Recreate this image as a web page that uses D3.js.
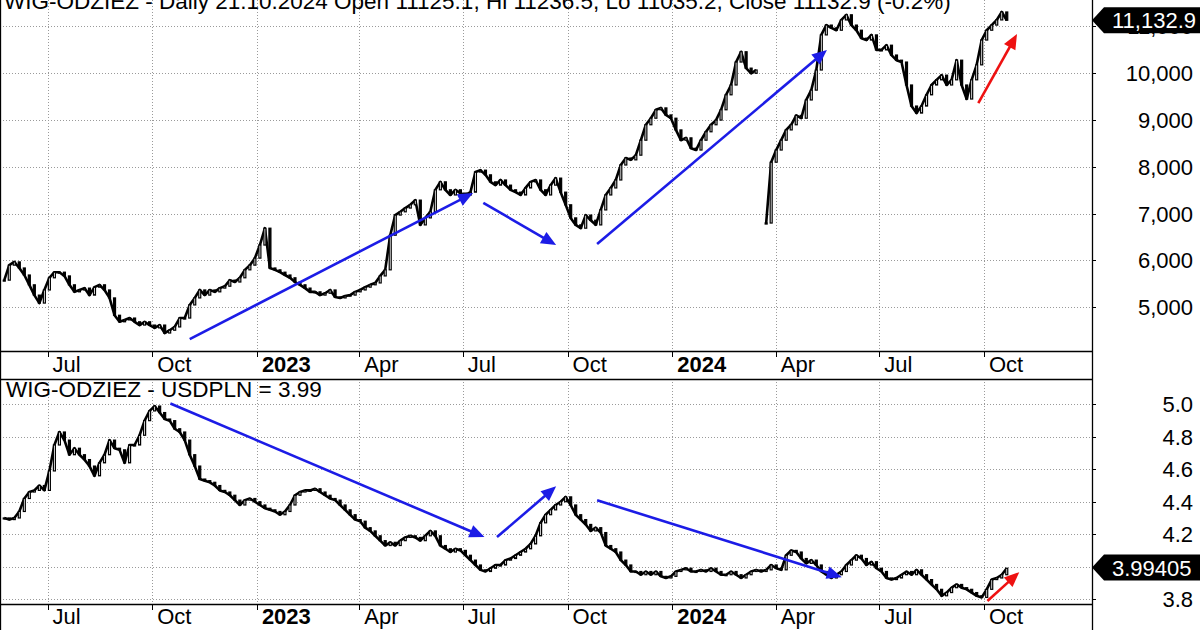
<!DOCTYPE html>
<html><head><meta charset="utf-8">
<script src="https://cdn.jsdelivr.net/npm/d3@7"></script>
<style>body{margin:0;background:#fff} svg{display:block;font-family:"Liberation Sans",Arial,sans-serif}</style>
</head><body><svg id="c" width="1200" height="630"></svg>
<script>
// ---------------- data ----------------
const startDate = "2022-05-24";
const endDate = "2024-10-21";
const wigTitle = "WIG-ODZIEZ - Daily 21.10.2024 Open 11125.1, Hi 11236.5, Lo 11035.2, Close 11132.9 (-0.2%)";
const usdTitle = "WIG-ODZIEZ - USDPLN = 3.99";
// null = gap in the quotes
const wigValues = [5580,5900,5970,5840,5690,5480,5260,5090,5370,5630,5750,5750,5670,5480,5330,5370,5410,5260,5430,5480,
5370,5200,4830,4690,4730,4770,4690,4620,4690,4620,4560,4620,4450,4510,4580,4770,4770,5050,5200,5370,
5260,5370,5330,5410,5450,5580,5540,5630,5800,5900,6050,6330,6690,5840,5800,5750,5690,5630,5540,5480,
5410,5330,5330,5260,5300,5370,5220,5200,5240,5260,5330,5370,5430,5480,5520,5670,5800,6540,6970,7040,
7120,7190,7290,6760,6910,7040,7510,7680,7510,7400,7510,7440,7400,7460,7890,7930,7830,7680,7610,7720,
7610,7510,7460,7400,7550,7680,7720,7510,7400,7610,7760,7460,7190,6910,6760,6690,6970,6860,6760,7080,
7400,7550,7720,8040,8190,8150,8250,8570,8900,9040,9220,9260,9110,9040,8790,8570,8620,8400,8360,8570,
8750,8900,9000,9220,9540,9750,10240,10460,10110,10000,10070,null,6800,8100,8360,8570,8790,8900,9100,9040,
9430,9640,10070,10820,11030,10970,10920,11140,11250,11030,10920,10750,10710,10820,10500,10500,10600,10390,10280,10240,
9750,9300,9150,9300,9540,9750,9860,9960,9750,9860,10280,9750,9450,9860,10180,10710,10920,11030,11140,11310,11133];
const usdValues = [4.30,4.29,4.30,4.34,4.42,4.46,4.47,4.50,4.47,4.59,4.75,4.83,4.78,4.69,4.73,4.69,4.66,4.62,4.56,4.64,
4.69,4.78,4.73,4.72,4.64,4.75,4.75,4.81,4.90,4.96,4.99,4.95,4.91,4.90,4.85,4.83,4.78,4.69,4.62,4.54,
4.53,4.52,4.50,4.47,4.46,4.44,4.41,4.38,4.41,4.42,4.40,4.38,4.36,4.35,4.34,4.32,4.34,4.38,4.44,4.46,
4.47,4.47,4.48,4.46,4.44,4.42,4.41,4.38,4.35,4.32,4.29,4.28,4.24,4.22,4.19,4.16,4.13,4.15,4.13,4.16,
4.18,4.19,4.18,4.16,4.19,4.22,4.19,4.13,4.11,4.09,4.11,4.10,4.07,4.04,4.01,3.98,3.97,3.99,4.01,4.01,
4.04,4.05,4.07,4.09,4.11,4.14,4.19,4.27,4.32,4.35,4.38,4.40,4.43,4.38,4.32,4.29,4.26,4.22,4.24,4.21,
4.13,4.11,4.09,4.04,4.01,3.97,3.97,3.95,3.97,3.95,3.97,3.94,3.93,3.94,3.97,3.98,3.99,3.97,3.97,3.98,
3.97,3.99,3.97,3.95,3.95,3.97,3.95,3.93,3.95,3.97,3.98,3.97,3.98,4.01,3.99,3.98,4.07,4.10,4.09,4.05,
4.02,4.04,4.01,3.97,3.95,3.93,3.95,3.97,4.01,4.04,4.07,4.05,4.01,4.03,3.99,3.97,3.93,3.92,3.93,3.95,
3.97,3.95,3.98,3.95,3.92,3.89,3.86,3.82,3.84,3.87,3.89,3.87,3.86,3.84,3.82,3.81,3.86,3.92,3.93,3.95,3.99];
const wigLast = 11132.9;
const usdLast = 3.99405;
const wigLastLabel = "11,132.9";
const usdLastLabel = "3.99405";
const xTickDates = ["2022-07-01","2022-10-01","2023-01-01","2023-04-01","2023-07-01","2023-10-01","2024-01-01","2024-04-01","2024-07-01","2024-10-01"];
const xTickLabels = ["Jul","Oct","2023","Apr","Jul","Oct","2024","Apr","Jul","Oct"];
const wigTicks = [5000,6000,7000,8000,9000,10000,11000];
const usdTicks = [3.8,4.0,4.2,4.4,4.6,4.8,5.0];
// arrows: [fromDate, fromValue, toDate, toValue]
const wigBlueArrows = [["2022-11-03",4320,"2023-07-10",7440],["2023-07-19",7230,"2023-09-21",6330],["2023-10-27",6350,"2024-05-16",10500]];
const wigRedArrows = [["2024-09-26",9360,"2024-10-30",10840]];
const usdBlueArrows = [["2022-10-17",5.006,"2023-07-20",4.182],["2023-07-31",4.182,"2023-09-21",4.495],["2023-10-27",4.409,"2024-05-29",3.935]];
const usdRedArrows = [["2024-10-04",3.788,"2024-11-01",3.966]];

// ---------------- layout ----------------
const svg = d3.select("#c");
const P = {right:1092, bot:{y0:379,y1:604}};
const parse = d3.utcParse("%Y-%m-%d");
const x = d3.scaleUtc().domain([parse("2022-07-01"), parse("2024-10-01")]).range([47.5, 984]);
const yTop = d3.scaleLinear().domain([4066, 11566]).range([351, 0]);
const yBot = d3.scaleLinear().domain([3.7695, 5.16]).range([604, 378.5]);
const FS = 22;
const grid = "#9a9a9a";

const defs = svg.append("defs");
defs.append("clipPath").attr("id","cTop").append("rect").attr("x",0).attr("y",0).attr("width",P.right).attr("height",351);
defs.append("clipPath").attr("id","cBot").append("rect").attr("x",0).attr("y",P.bot.y0).attr("width",P.right).attr("height",P.bot.y1-P.bot.y0);

function panel(y, y0, y1, ticks, fmt, values, blue, red, clip, lastVal, lastLabel){
  const g = svg.append("g");
  g.selectAll(".hg").data(ticks).join("line")
    .attr("x1",0).attr("x2",P.right).attr("y1",d=>Math.round(y(d))+0.5).attr("y2",d=>Math.round(y(d))+0.5)
    .attr("stroke",grid).attr("stroke-dasharray","1,2");
  g.selectAll(".vg").data(xTickDates).join("line")
    .attr("x1",d=>Math.round(x(parse(d)))+0.5).attr("x2",d=>Math.round(x(parse(d)))+0.5).attr("y1",y0).attr("y2",y1)
    .attr("stroke",grid).attr("stroke-dasharray","1,2");
  g.selectAll(".tk").data(ticks).join("line")
    .attr("x1",P.right).attr("x2",P.right+4).attr("y1",d=>Math.round(y(d))+0.5).attr("y2",d=>Math.round(y(d))+0.5)
    .attr("stroke","#000");
  g.selectAll(".tl").data(ticks).join("text")
    .attr("x",1193).attr("y",d=>y(d)).attr("dy","0.36em").attr("text-anchor","end")
    .attr("font-size",FS).attr("fill","#000").text(fmt);
  // candles (open = previous close)
  const t0 = parse(startDate), t1 = parse(endDate), n = values.length;
  const pts = values.map((c,i)=>({d:new Date(+t0 + (t1-t0)*i/(n-1)), c, o: (i && values[i-1]!=null) ? values[i-1] : c}));
  const cg = g.append("g").attr("clip-path",`url(#${clip})`);
  cg.append("path").datum(pts)
    .attr("d", d3.line().defined(d=>d.c!=null).x(d=>x(d.d)).y(d=>y(d.c)))
    .attr("fill","none").attr("stroke","#000").attr("stroke-width",2.6).attr("stroke-linejoin","round");
  const bw = 2;
  cg.selectAll("rect").data(pts.filter(d=>d.c!=null)).join("rect")
    .attr("x",d=>x(d.d)-bw/2).attr("width",bw)
    .attr("y",d=>y(Math.max(d.o,d.c))).attr("height",d=>Math.max(1,Math.abs(y(d.o)-y(d.c))))
    .attr("fill",d=>d.c>=d.o?"#fff":"#000").attr("stroke","#000").attr("stroke-width",1.2);
  function arrows(list, color){
    list.forEach(a=>{
      const p1=[x(parse(a[0])),y(a[1])], p2=[x(parse(a[2])),y(a[3])];
      const dx=p2[0]-p1[0], dy=p2[1]-p1[1], L=Math.hypot(dx,dy), ux=dx/L, uy=dy/L;
      const hl=15, hw=6.5;
      const b=[p2[0]-ux*hl, p2[1]-uy*hl];
      g.append("line").attr("x1",p1[0]).attr("y1",p1[1]).attr("x2",b[0]+ux*2).attr("y2",b[1]+uy*2)
        .attr("stroke",color).attr("stroke-width",2.6);
      g.append("path").attr("d",`M${p2[0]},${p2[1]}L${b[0]-uy*hw},${b[1]+ux*hw}L${b[0]+uy*hw},${b[1]-ux*hw}Z`).attr("fill",color);
    });
  }
  arrows(blue,"#1c1ce6");
  arrows(red,"#ee1111");
  const ly = y(lastVal);
  g.append("path").attr("d",`M${P.right},${ly}L${P.right+12},${ly-13}L1200,${ly-13}L1200,${ly+13}L${P.right+12},${ly+13}Z`).attr("fill","#000");
  g.append("text").attr("x",1112).attr("y",ly).attr("dy","0.36em").attr("font-size",FS).attr("fill","#fff").text(lastLabel);
}

panel(yTop, 0, 351, wigTicks, d3.format(",d"), wigValues, wigBlueArrows, wigRedArrows, "cTop", wigLast, wigLastLabel);
panel(yBot, P.bot.y0, P.bot.y1, usdTicks, d3.format(".1f"), usdValues, usdBlueArrows, usdRedArrows, "cBot", usdLast, usdLastLabel);

function band(y0, y1, base){
  const g = svg.append("g");
  g.append("line").attr("x1",0).attr("x2",P.right).attr("y1",y0+0.5).attr("y2",y0+0.5).attr("stroke","#000").attr("stroke-width",1.3);
  if (y1 < 630) g.append("line").attr("x1",0).attr("x2",P.right).attr("y1",y1+0.5).attr("y2",y1+0.5).attr("stroke","#000").attr("stroke-width",1.3);
  g.selectAll(".t").data(xTickDates).join("line")
    .attr("x1",d=>Math.round(x(parse(d)))+0.5).attr("x2",d=>Math.round(x(parse(d)))+0.5).attr("y1",y0).attr("y2",y0+6).attr("stroke","#000");
  g.selectAll(".l").data(xTickDates).join("text")
    .attr("x",d=>x(parse(d))+5).attr("y",base).attr("font-size",FS)
    .attr("font-weight",(d,i)=>/^\d{4}$/.test(xTickLabels[i])?"bold":"normal")
    .text((d,i)=>xTickLabels[i]);
}
band(351, 379, 372);
band(604, 630, 624);

svg.append("line").attr("x1",P.right+0.5).attr("x2",P.right+0.5).attr("y1",0).attr("y2",630).attr("stroke","#000").attr("stroke-width",1.3);
svg.append("line").attr("x1",0.5).attr("x2",0.5).attr("y1",0).attr("y2",630).attr("stroke","#000").attr("stroke-width",1.3);

svg.append("text").attr("x",4).attr("y",8.5).attr("font-size",22.5).text(wigTitle);
svg.append("text").attr("x",6).attr("y",397).attr("font-size",22.5).text(usdTitle);
</script></body></html>
